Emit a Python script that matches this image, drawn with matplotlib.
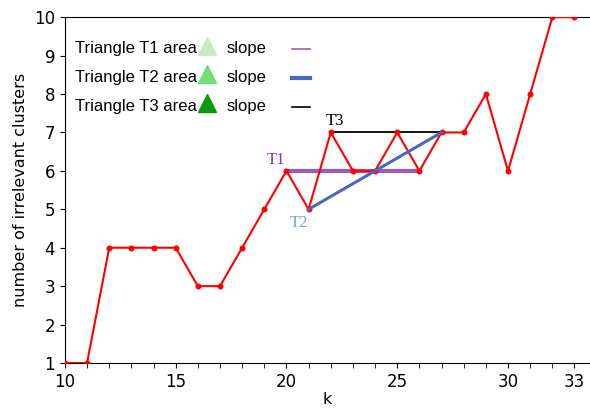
import numpy as np
import matplotlib.pyplot as plt
from matplotlib.ticker import MultipleLocator

# number of irrelevant clusters for each k
k = list(range(10, 34))
clusters = [1, 1, 4, 4, 4, 4, 3, 3, 4, 5, 6, 5, 7, 6, 6, 7, 6, 7, 7, 8, 6, 8, 10, 10]

# slope segments of the three triangles: (k0, k1)
t1_seg = (20, 26)
t2_seg = (21, 27)
t3_seg = (22, 27)

tri_colors = ['#cbe8c3', '#72df72', '#0c9a0c']
slope_colors = ['#a862c4', '#4a68c0', 'black']
slope_widths = [1.3, 3.0, 1.2]

plt.rcParams['font.family'] = ['DejaVu Sans']
fig, ax = plt.subplots(figsize=(5.9, 4.09), dpi=100)
fig.subplots_adjust(left=0.11, right=1.0, bottom=0.1125, top=0.958)

ax.plot(k, clusters, color='red', lw=1.5, marker='o', ms=3.3, zorder=3)

val = dict(zip(k, clusters))
ax.plot(t1_seg, [val[t1_seg[0]], val[t1_seg[1]]], color='#9a5cb8', lw=3, zorder=2)
ax.plot(t2_seg, [val[t2_seg[0]], val[t2_seg[1]]], color='#4a68c0', lw=2.2, zorder=4)
ax.plot(t3_seg, [val[t3_seg[0]], val[t3_seg[1]]], color='black', lw=1.3, zorder=2)

ax.text(19.55, 6.28, 'T1', color='#8a2be2', family='Liberation Serif', fontsize=12, ha='center', va='center')
ax.text(20.55, 4.64, 'T2', color='#6fa8dc', family='Liberation Serif', fontsize=12, ha='center', va='center')
ax.text(22.2, 7.3, 'T3', color='black', family='Liberation Serif', fontsize=12, ha='center', va='center')

# hand-drawn legend in axes coordinates
rows_y = [0.910, 0.827, 0.743]
for i, y in enumerate(rows_y):
    ax.text(0.019, y, f'Triangle T{i + 1} area', transform=ax.transAxes,
            family='Liberation Sans', fontsize=12, va='center')
    ax.plot([0.270], [y + 0.008], marker='^', ms=13, color=tri_colors[i],
            transform=ax.transAxes, clip_on=False)
    ax.text(0.307, y, 'slope', transform=ax.transAxes,
            family='Liberation Sans', fontsize=12, va='center')
    ax.plot([0.432, 0.467], [y - 0.003, y - 0.003], color=slope_colors[i],
            lw=slope_widths[i], transform=ax.transAxes)

ax.set_xlim(10, 33.7)
ax.set_ylim(1, 10)
ax.set_xticks([10, 15, 20, 25, 30, 33])
ax.xaxis.set_minor_locator(MultipleLocator(1))
ax.set_yticks(range(1, 11))
ax.tick_params(labelsize=12)
ax.tick_params(which='minor', length=3.5)
ax.spines['right'].set_visible(False)
ax.set_xlabel('k', fontsize=11.5, labelpad=1)
ax.set_ylabel('number of irrelevant clusters', fontsize=11.5)

fig.savefig('out.png', dpi=100)
